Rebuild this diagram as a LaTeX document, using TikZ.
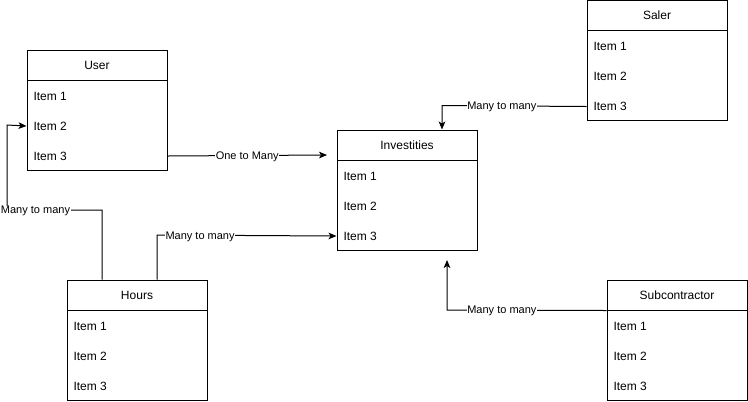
\documentclass[tikz,border=0pt]{standalone}
\usepackage{fontspec}
\setmainfont{Liberation Sans}
\usetikzlibrary{arrows.meta}

\begin{document}
\begin{tikzpicture}[x=.75pt,y=-.75pt,line width=.75pt,
  head/.style={draw,minimum width=105pt,minimum height=22.5pt,inner sep=0pt,text depth=0pt,font=\fontsize{9}{11}\selectfont},
  body/.style={draw,minimum width=105pt,minimum height=67.5pt,inner sep=0pt},
  item/.style={anchor=west,inner sep=0pt,yshift=-.75pt,font=\fontsize{9}{11}\selectfont},
  lbl/.style={fill=white,inner sep=.5pt,text depth=0pt,font=\fontsize{8.25}{10}\selectfont},
  arr/.style={-{Stealth[length=6pt,width=5pt,inset=1.5pt]}}]
\path[use as bounding box] (0,0) rectangle (748,401);
% User
\node[head] (user) at (97,65) {User};
\node[body] (user-b) at (97,125) {};
\node[item] (user-1) at (33,95) {Item 1};
\node[item] (user-2) at (33,125) {Item 2};
\node[item] (user-3) at (33,155) {Item 3};
% Investities
\node[head] (inv) at (407,145) {Investities};
\node[body] (inv-b) at (407,205) {};
\node[item] (inv-1) at (343,175) {Item 1};
\node[item] (inv-2) at (343,205) {Item 2};
\node[item] (inv-3) at (343,235) {Item 3};
% Saler
\node[head] (saler) at (657,15.5) {Saler};
\node[body] (saler-b) at (657,75.5) {};
\node[item] (saler-1) at (593,45.5) {Item 1};
\node[item] (saler-2) at (593,75.5) {Item 2};
\node[item] (saler-3) at (593,105.5) {Item 3};
% Hours
\node[head] (hours) at (137,295) {Hours};
\node[body] (hours-b) at (137,355) {};
\node[item] (hours-1) at (73,325) {Item 1};
\node[item] (hours-2) at (73,355) {Item 2};
\node[item] (hours-3) at (73,385) {Item 3};
% Subcontractor
\node[head] (sub) at (677,295) {Subcontractor};
\node[body] (sub-b) at (677,355) {};
\node[item] (sub-1) at (613,325) {Item 1};
\node[item] (sub-2) at (613,355) {Item 2};
\node[item] (sub-3) at (613,385) {Item 3};
% free ends
\coordinate (inv-in) at (327,155);
\coordinate (inv-up) at (447,260);
% connectors
\draw[arr] (user-b.east |- user-3) -- node[lbl] {One to Many} (inv-in);
\draw[arr] ([xshift=-26.25pt]hours.north) -- (102,210) -- node[lbl,pos=.7] {Many to many} (7,210) -- (7,125) -- (user-b.west |- user-2);
\draw[arr] ([xshift=15pt]hours.north) -- (157,235) -- node[lbl,pos=.24] {Many to many} (inv-b.west |- inv-3);
\draw[arr] (saler-b.west |- saler-3) -- node[lbl,pos=.586] {Many to many} (442,105.5) -- ([xshift=26.25pt]inv.north);
\draw[arr] (sub.south west) -- node[lbl,pos=.656] {Many to many} (447,310) -- (inv-up);
\end{tikzpicture}
\end{document}
